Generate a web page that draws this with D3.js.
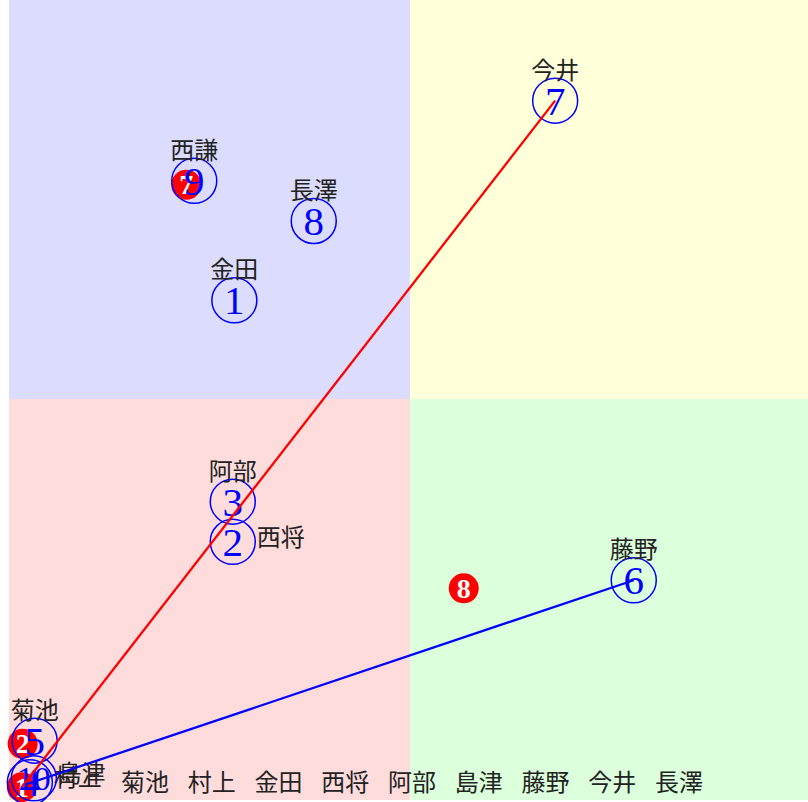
<!DOCTYPE html>
<html>
<head>
<meta charset="utf-8">
<script src="https://cdn.jsdelivr.net/npm/d3@7"></script>
<style>
  body { margin: 0; background: #fff; }
  svg { display: block; }
  .name { font-family: "Noto Sans CJK JP", sans-serif; font-size: 24px; fill: #222; }
  .num { font-family: "Liberation Serif", serif; fill: blue; }
  .rnum { font-family: "Liberation Serif", serif; font-weight: bold; fill: #fff; }
</style>
</head>
<body>
<svg width="808" height="802"></svg>
<script>
"use strict";

// blue (outlined) members
const blueIds = [1, 2, 3, 4, 5, 6, 7, 8, 9, 10];
const blueNames = ["金田", "西将", "阿部", "村上", "菊池", "藤野", "今井", "長澤", "西謙", "島津"];
const blueX = [2.81, 2.79, 2.79, 0.26, 0.32, 7.79, 6.81, 3.80, 2.31, 0.31];
const blueY = [6.23, 3.22, 3.72, 0.22, 0.74, 2.74, 8.72, 7.22, 7.72, 0.27];

// red (filled) members
const redIds = [1, 2, 7, 8];
const redX = [0.16, 0.17, 2.21, 5.67];
const redY = [0.16, 0.70, 7.67, 2.64];

// paths
const redPath = [[0.16, 0.16], [6.81, 8.72]];
const bluePath = [[0.20, 0.19], [7.79, 2.74]];

// names row
const rowNames = ["菊池", "村上", "金田", "西将", "阿部", "島津", "藤野", "今井", "長澤"];

const svg = d3.select("svg");

const xScale = d3.scaleLinear().domain([0, 10]).range([9, 811]);
const yScale = d3.scaleLinear().domain([0, 10]).range([800, -2]);

const quads = [
  { x0: 0, x1: 5, y0: 5, y1: 10, c: "#dcdcff" },
  { x0: 5, x1: 10, y0: 5, y1: 10, c: "#ffffda" },
  { x0: 0, x1: 5, y0: 0, y1: 5, c: "#ffdcdc" },
  { x0: 5, x1: 10, y0: 0, y1: 5, c: "#dcffdc" }
];

svg.selectAll("rect.quad")
  .data(quads)
  .enter()
  .append("rect")
  .attr("class", "quad")
  .attr("x", d => xScale(d.x0))
  .attr("y", d => yScale(d.y1))
  .attr("width", d => xScale(d.x1) - xScale(d.x0))
  .attr("height", d => yScale(d.y0) - yScale(d.y1))
  .attr("fill", d => d.c);

const reds = redIds.map((id, i) => ({ id, x: redX[i], y: redY[i] }));
const blues = blueIds.map((id, i) => ({ id, name: blueNames[i], x: blueX[i], y: blueY[i] }));

const redG = svg.selectAll("g.red")
  .data(reds)
  .enter()
  .append("g")
  .attr("class", "red")
  .attr("transform", d => `translate(${xScale(d.x)},${yScale(d.y)})`);

redG.append("circle").attr("r", 15).attr("fill", "red");
redG.append("text")
  .attr("class", "rnum")
  .attr("text-anchor", "middle")
  .attr("dy", 9.5)
  .style("font-size", "28px")
  .text(d => d.id);

const blueG = svg.selectAll("g.blue")
  .data(blues)
  .enter()
  .append("g")
  .attr("class", "blue")
  .attr("transform", d => `translate(${xScale(d.x)},${yScale(d.y)})`);

blueG.append("circle")
  .attr("r", 22.5)
  .attr("fill", "none")
  .attr("stroke", "blue")
  .attr("stroke-width", 1.5);

blueG.append("text")
  .attr("class", "num")
  .attr("text-anchor", "middle")
  .attr("dy", d => (d.id > 9 ? 12 : 14))
  .style("font-size", d => (d.id > 9 ? "34px" : "41px"))
  .text(d => d.id);

// names placed to the right of the circle
const rightSide = new Set([2, 4, 10]);

blueG.append("text")
  .attr("class", "name")
  .attr("text-anchor", d => (rightSide.has(d.id) ? "start" : "middle"))
  .attr("x", d => (rightSide.has(d.id) ? 24 : 0))
  .attr("y", d => (rightSide.has(d.id) ? 4 : -22))
  .text(d => d.name);

const line = d3.line()
  .x(d => xScale(d[0]))
  .y(d => yScale(d[1]));

svg.append("path")
  .datum(redPath)
  .attr("d", line)
  .attr("fill", "none")
  .attr("stroke", "red")
  .attr("stroke-width", 2.3);

svg.append("path")
  .datum(bluePath)
  .attr("d", line)
  .attr("fill", "none")
  .attr("stroke", "blue")
  .attr("stroke-width", 2.3);

const rowScale = d3.scalePoint().domain(rowNames).range([145, 679]);

svg.selectAll("text.row")
  .data(rowNames)
  .enter()
  .append("text")
  .attr("class", "name row")
  .attr("text-anchor", "middle")
  .attr("x", d => rowScale(d))
  .attr("y", 791)
  .text(d => d);
</script>
</body>
</html>
